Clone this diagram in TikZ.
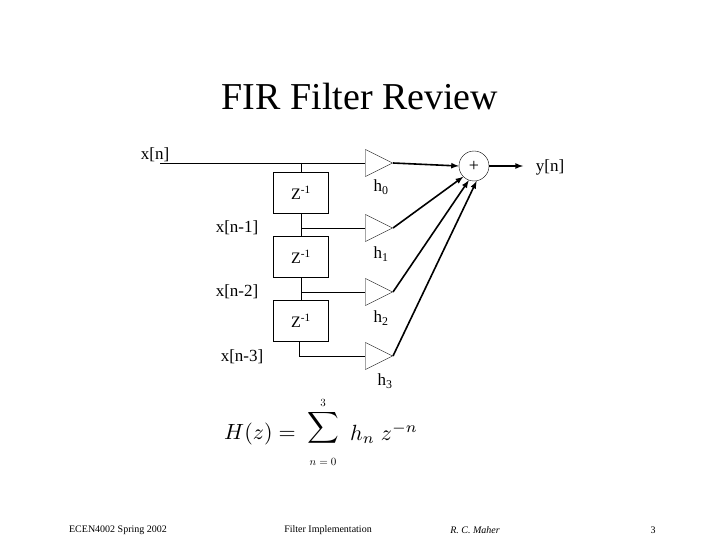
\documentclass[tikz,border=0pt]{standalone}
\usepackage{fontspec}
\usepackage{graphicx}
\setmainfont{Liberation Serif}
\usetikzlibrary{shapes.geometric, arrows, positioning}
\tikzstyle{delay} = [rectangle, minimum width=55pt, minimum height=41pt, draw=black, inner sep=0pt]
\tikzstyle{gain} = [isosceles triangle, isosceles triangle stretches, minimum height=27pt, minimum width=27pt, draw=black, inner sep=0pt, anchor=apex]
\tikzstyle{adder} = [circle, minimum size=30pt, draw=black, inner sep=0pt]
\tikzstyle{label} = [font=\fontsize{17}{17}\selectfont, inner sep=0pt]
\tikzstyle{arrow} = [line width=1.6pt,->,>=latex]
\tikzstyle{line} = [-]

\begin{document}
\begin{tikzpicture}[x=1pt, y=-1pt]
\useasboundingbox (0,0) rectangle (720,540);

% Title
\node (title) at (360,97) {\fontsize{38}{38}\selectfont FIR Filter Review};

% Delay line
\node (z1) [delay] at (301,193) {\fontsize{16}{16}\selectfont Z\textsuperscript{-1}};
\node (z2) [delay] at (301,257) {\fontsize{16}{16}\selectfont Z\textsuperscript{-1}};
\node (z3) [delay] at (301,321) {\fontsize{16}{16}\selectfont Z\textsuperscript{-1}};

% Gains
\node (g0) [gain] at (393,163) {};
\node (g1) [gain] at (393,228) {};
\node (g2) [gain] at (393,292) {};
\node (g3) [gain] at (393,356) {};

% Adder
\node (sum) [adder] at (474,166) {\fontsize{18}{18}\selectfont +};
\coordinate (out) at (523,166);
\coordinate (in) at (160,163);
\coordinate (t0) at (301,163);
\coordinate (t1) at (301,228);
\coordinate (t2) at (301,292);
\coordinate (t3) at (299,356);

% Labels
\node (xn) [label] at (155,155) {x[n]};
\node (xn1) [label] at (237,228) {x[n-1]};
\node (xn2) [label] at (237,292) {x[n-2]};
\node (xn3) [label] at (242,357) {x[n-3]};
\node (yn) [label] at (550,167) {y[n]};
\node (h0) [label] at (381,187) {h\textsubscript{0}};
\node (h1) [label] at (381,254) {h\textsubscript{1}};
\node (h2) [label] at (381,318) {h\textsubscript{2}};
\node (h3) [label] at (385,381) {h\textsubscript{3}};

% Connections
\draw [line] (in) -- (g0.west);
\draw [line] (t0) -- (z1.north);
\draw [line] (z1.south) -- (z2.north);
\draw [line] (z2.south) -- (z3.north);
\draw [line] (t1) -- (g1.west);
\draw [line] (t2) -- (g2.west);
\draw [line] (z3.south -| t3) -- (t3) -- (g3.west);
\draw [arrow] (g0.apex) -- (sum.west);
\draw [arrow] (g1.apex) -- (sum.225);
\draw [arrow] (g2.apex) -- (sum.250);
\draw [arrow] (g3.apex) -- (sum.280);
\draw [arrow] (sum) -- (out);

% Transfer function
\node (hz) at (260,434) {\scalebox{2.2}{$H(z)=$}};
\node (sigma) at (323,428) {\scalebox{2.2}{$\displaystyle\sum$}};
\node (upper) at (323,403) {\scalebox{1.1}{$3$}};
\node (lower) at (323,462) {\scalebox{1.1}{$n=0$}};
\node (term) at (384,433) {\scalebox{2.2}{$h_n\; z^{-n}$}};

% Footer
\node (f1) at (118,530) {\fontsize{10}{10}\selectfont ECEN4002 Spring 2002};
\node (f2) at (328,530) {\fontsize{10}{10}\selectfont Filter Implementation};
\node (f3) at (475,530) {\fontsize{10}{10}\selectfont\itshape R. C. Maher};
\node (f4) at (653,530) {\fontsize{10}{10}\selectfont 3};
\end{tikzpicture}
\end{document}
